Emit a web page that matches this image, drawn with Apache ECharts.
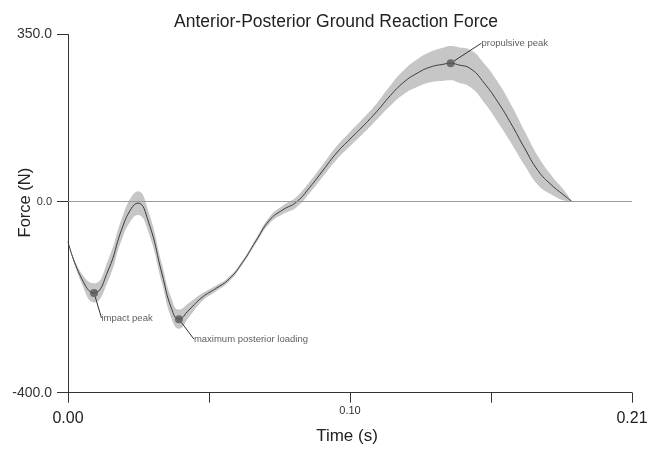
<!DOCTYPE html>
<html>
<head>
<meta charset="utf-8">
<title>Anterior-Posterior Ground Reaction Force</title>
<script src="https://cdn.jsdelivr.net/npm/echarts@6/dist/echarts.min.js"></script>
<style>
	html, body { margin: 0; padding: 0; background: #fff; }
	#chart-box { width: 647px; height: 455px; }
</style>
</head>
<body>
<div id="chart-box"></div>
<script>
// time (s), mean force (N) and band half-width (N)
var times = [0, 0.005, 0.0097, 0.015, 0.020, 0.0235, 0.026, 0.030, 0.035, 0.0385, 0.0413, 0.045,
	0.050, 0.055, 0.060, 0.065, 0.070, 0.075, 0.080, 0.085, 0.090, 0.095, 0.100, 0.105,
	0.110, 0.115, 0.120, 0.125, 0.130, 0.135, 0.140, 0.1425, 0.145, 0.150, 0.155, 0.160,
	0.165, 0.170, 0.175, 0.180, 0.185, 0.1877];
var meanForce = [-84, -160, -191, -143, -58, -15, -3, -43, -151, -223, -246, -227,
	-200, -182, -162, -127, -82, -39, -17, -1, 30, 66, 102, 131,
	159, 189, 222, 250, 269, 282, 288, 290, 287, 278, 248, 209,
	163, 112, 65, 35, 12, 0];
var bandForce = [0, 10, 20, 22, 22, 24, 25, 22, 20, 21, 20, 15,
	8, 6, 5, 4, 5, 7, 9, 11, 12, 13, 14, 15,
	16, 17, 21, 25, 29, 32, 35, 36, 37, 39, 41, 42,
	40, 36, 30, 20, 10, 0];

var peakNames = ["impact peak", "maximum posterior loading", "propulsive peak"];
var peakTimes = [0.0097, 0.0413, 0.1425];
var peakForces = [-191, -246, 290];

var yTicks = [-400, 0, 350];
var xTicks = [0, 0.0525, 0.105, 0.1575, 0.21];
var xLabelValues = [0, 0.105, 0.21];
var xLabelTexts = ["0.00", "0.10", "0.21"];

var font = "Liberation Sans, Arial, Helvetica, sans-serif";

// force first, time second: the stack is taken on the first numeric dimension
var lowerData = times.map(function (t, i) {
	return [meanForce[i] - bandForce[i], t];
});
var widthData = times.map(function (t, i) {
	return [2 * bandForce[i], t];
});
var meanData = times.map(function (t, i) {
	return [t, meanForce[i]];
});
var peakData = peakTimes.map(function (t, i) {
	return { name: peakNames[i], value: [t, peakForces[i]] };
});
var labelShift = [[33, 25], [72, 20], [64, -20]];

var chart = echarts.init(document.getElementById("chart-box"));
var option = {
	animation: false,
	backgroundColor: "#fff",
	title: {
		text: "Anterior-Posterior Ground Reaction Force",
		left: 331,
		textAlign: "center",
		top: 8,
		textStyle: {
			fontFamily: font,
			fontSize: 17.5,
			fontWeight: "normal",
			color: "#222"
		}
	},
	grid: {
		left: 68,
		right: 15,
		top: 34.5,
		bottom: 62.3,
		outerBoundsMode: "none",
		containLabel: false
	},
	xAxis: {
		type: "value",
		min: 0,
		max: 0.21,
		name: "Time (s)",
		nameLocation: "middle",
		nameGap: 35,
		nameMoveOverlap: false,
		nameTextStyle: { fontFamily: font, fontSize: 17, color: "#222", padding: [0, 6, 0, 0] },
		splitLine: { show: false },
		axisLine: { show: true, onZero: false, lineStyle: { color: "#333", width: 1 } },
		axisTick: {
			show: true,
			inside: false,
			length: 10,
			customValues: xTicks,
			lineStyle: { color: "#333" }
		},
		axisLabel: {
			margin: 13,
			customValues: xLabelValues,
			fontFamily: font,
			color: "#222",
			formatter: function (v) {
				var i = xLabelValues.indexOf(v);
				var s = i >= 0 ? xLabelTexts[i] : "";
				return i === 1 ? "{s|" + s + "}" : "{b|" + s + "}";
			},
			rich: {
				b: { fontFamily: font, fontSize: 16, color: "#222", padding: [5, 0, 0, 0] },
				s: { fontFamily: font, fontSize: 11, color: "#333" }
			}
		}
	},
	yAxis: {
		type: "value",
		min: -400,
		max: 350,
		name: "Force (N)",
		nameLocation: "middle",
		nameGap: 34,
		nameRotate: 90,
		nameMoveOverlap: false,
		nameTextStyle: { fontFamily: font, fontSize: 16.5, color: "#222", padding: [0, 0, 0, 22] },
		splitLine: { show: false },
		axisLine: { show: true, onZero: false, lineStyle: { color: "#333", width: 1 } },
		axisTick: {
			show: true,
			length: 11,
			customValues: yTicks,
			lineStyle: { color: "#333" }
		},
		axisLabel: {
			margin: 16,
			customValues: yTicks,
			fontFamily: font,
			color: "#333",
			formatter: function (v) {
				return v === 0 ? "{s|" + v.toFixed(1) + "}" : "{b|" + v.toFixed(1) + "}";
			},
			rich: {
				b: { fontFamily: font, fontSize: 14, color: "#333" },
				s: { fontFamily: font, fontSize: 11, color: "#333", padding: [0, 0, 0, 0] }
			}
		}
	},
	series: [
		{
			name: "lower",
			type: "line",
			data: lowerData,
			encode: { x: 1, y: 0 },
			stack: "band",
			stackStrategy: "all",
			smooth: true,
			symbol: "none",
			lineStyle: { opacity: 0 },
			silent: true,
			z: 1
		},
		{
			name: "band",
			type: "line",
			data: widthData,
			encode: { x: 1, y: 0 },
			stack: "band",
			stackStrategy: "all",
			smooth: true,
			symbol: "none",
			lineStyle: { opacity: 0 },
			areaStyle: { color: "#c6c6c6", opacity: 1 },
			silent: true,
			z: 1
		},
		{
			name: "mean",
			type: "line",
			data: meanData,
			smooth: true,
			symbol: "none",
			lineStyle: { color: "#3a3a3a", width: 1 },
			z: 3,
			markLine: {
				silent: true,
				symbol: "none",
				label: { show: false },
				lineStyle: { color: "#9a9a9a", width: 1, type: "solid" },
				data: [{ yAxis: 0 }]
			}
		},
		{
			name: "peaks",
			type: "scatter",
			data: peakData,
			symbol: "circle",
			symbolSize: 8,
			itemStyle: { color: "#555" },
			z: 4,
			label: {
				show: true,
				position: "inside",
				formatter: "{b}",
				fontFamily: font,
				fontSize: 9.5,
				color: "#333"
			},
			labelLine: {
				show: true,
				lineStyle: { color: "#333", width: 1 }
			},
			labelLayout: function (params) {
				var d = labelShift[params.dataIndex];
				return { dx: d[0], dy: d[1] };
			}
		}
	]
};

chart.setOption(option);
</script>
</body>
</html>
